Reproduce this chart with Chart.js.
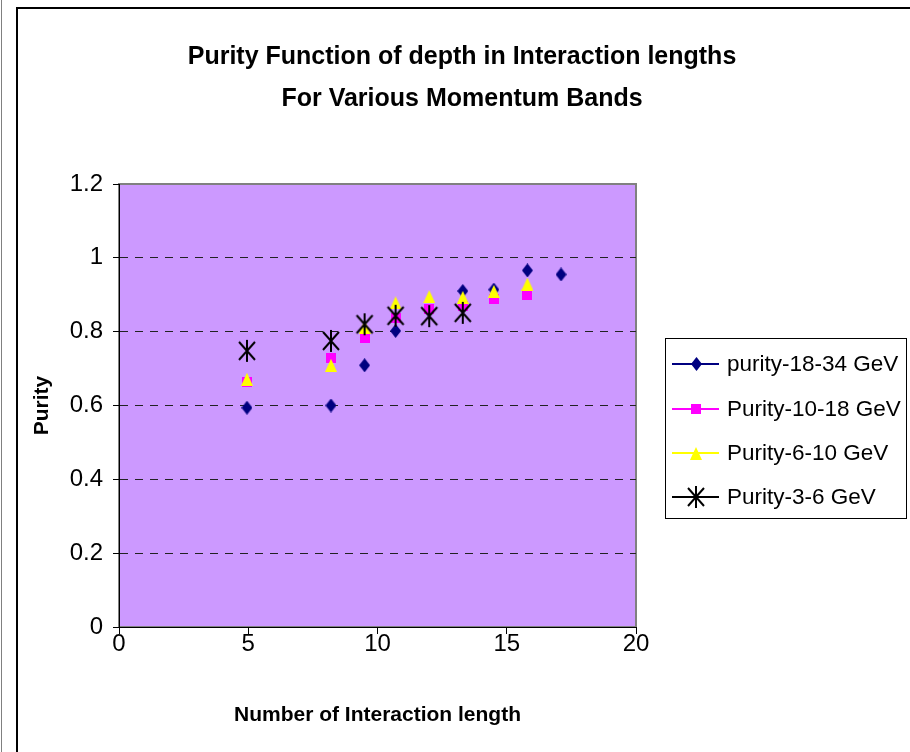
<!DOCTYPE html>
<html>
<head>
<meta charset="utf-8">
<script src="https://cdn.jsdelivr.net/npm/chart.js@4/dist/chart.umd.min.js"></script>
<style>
  html, body { margin: 0; padding: 0; background: #fff; }
  canvas { display: block; }
</style>
</head>
<body>
<canvas id="c" width="910" height="752"></canvas>
<script>
// ---- data ----
const titleLines = ['Purity Function of depth in Interaction lengths', 'For Various Momentum Bands'];
const xTitle = 'Number of Interaction length';
const yTitle = 'Purity';
const xTicks = [0, 5, 10, 15, 20];
const yTicks = [0, 0.2, 0.4, 0.6, 0.8, 1, 1.2];

const seriesNames = ['purity-18-34 GeV', 'Purity-10-18 GeV', 'Purity-6-10 GeV', 'Purity-3-6 GeV'];

const x1834 = [4.95, 8.2, 9.5, 10.7, 13.3, 14.5, 15.8, 17.1];
const y1834 = [0.594, 0.600, 0.709, 0.802, 0.910, 0.914, 0.966, 0.955];

const x1018 = [4.95, 8.2, 9.5, 10.7, 12.0, 13.3, 14.5, 15.8];
const y1018 = [0.664, 0.729, 0.783, 0.836, 0.862, 0.869, 0.888, 0.899];

const x610 = [4.95, 8.2, 9.5, 10.7, 12.0, 13.3, 14.5, 15.8];
const y610 = [0.671, 0.709, 0.812, 0.878, 0.895, 0.893, 0.909, 0.929];

const x36 = [4.95, 8.2, 9.5, 10.7, 12.0, 13.3];
const y36 = [0.748, 0.775, 0.820, 0.843, 0.842, 0.851];

// ---- marker images ----
function mk(w, h, draw) {
  const c = document.createElement('canvas');
  c.width = w; c.height = h;
  draw(c.getContext('2d'), w, h);
  return c;
}
const diamond = mk(11, 14, (g, w, h) => {
  g.fillStyle = '#000080';
  g.beginPath(); g.moveTo(w / 2, 0); g.lineTo(w, h / 2); g.lineTo(w / 2, h); g.lineTo(0, h / 2); g.closePath(); g.fill();
});
const square = mk(10, 10, (g, w, h) => { g.fillStyle = '#FF00FF'; g.fillRect(0, 0, w, h); });
const triangle = mk(12, 13, (g, w, h) => {
  g.fillStyle = '#FFFF00';
  g.beginPath(); g.moveTo(w / 2, 0); g.lineTo(w, h); g.lineTo(0, h); g.closePath(); g.fill();
});
const star = mk(20, 24, (g, w, h) => {
  g.strokeStyle = '#000'; g.lineWidth = 2;
  g.beginPath();
  g.moveTo(10, 1); g.lineTo(10, 23);
  g.moveTo(2, 3); g.lineTo(18, 21);
  g.moveTo(18, 3); g.lineTo(2, 21);
  g.stroke();
});

const toPts = (xs, ys) => xs.map((x, i) => ({ x: x, y: ys[i] }));

const FONT = "'Liberation Sans', Arial, sans-serif";

const datasets = [
  { label: seriesNames[0], data: toPts(x1834, y1834), pointStyle: diamond, borderColor: '#000080', backgroundColor: '#000080', order: 3 },
  { label: seriesNames[1], data: toPts(x1018, y1018), pointStyle: square, borderColor: '#FF00FF', backgroundColor: '#FF00FF', order: 2 },
  { label: seriesNames[2], data: toPts(x610, y610), pointStyle: triangle, borderColor: '#FFFF00', backgroundColor: '#FFFF00', order: 1 },
  { label: seriesNames[3], data: toPts(x36, y36), pointStyle: star, borderColor: '#000000', backgroundColor: '#000000', order: 0 }
].map(d => Object.assign(d, { showLine: false, pointRadius: 6, pointHoverRadius: 6 }));

const framePlugin = {
  id: 'frame',
  beforeDraw(chart) {
    const g = chart.ctx, a = chart.chartArea;
    g.save();
    g.fillStyle = '#fff';
    g.fillRect(0, 0, chart.width, chart.height);
    // page lines
    g.strokeStyle = '#808080'; g.lineWidth = 1;
    g.beginPath(); g.moveTo(1.5, 0); g.lineTo(1.5, chart.height); g.stroke();
    g.strokeStyle = '#000'; g.lineWidth = 2;
    g.beginPath(); g.moveTo(17, chart.height); g.lineTo(17, 8); g.lineTo(chart.width, 8); g.stroke();
    // plot area
    g.fillStyle = '#CC99FF';
    g.fillRect(a.left, a.top, a.right - a.left, a.bottom - a.top);
    g.strokeStyle = '#808080'; g.lineWidth = 2;
    g.strokeRect(a.left, a.top, a.right - a.left, a.bottom - a.top);
    g.restore();
  },
  afterDraw(chart) {
    const g = chart.ctx;
    const bx = 665.5, by = 338.5, bw = 241, bh = 180;
    g.save();
    g.fillStyle = '#fff';
    g.fillRect(bx, by, bw, bh);
    g.strokeStyle = '#000'; g.lineWidth = 1;
    g.strokeRect(bx, by, bw, bh);
    const rows = [364, 409, 453, 497];
    g.font = '22.5px ' + FONT;
    g.textBaseline = 'middle';
    g.textAlign = 'left';
    chart.data.datasets.forEach((d, i) => {
      const y = rows[i];
      g.strokeStyle = d.borderColor; g.lineWidth = 2;
      g.beginPath(); g.moveTo(672, y); g.lineTo(719, y); g.stroke();
      const img = d.pointStyle;
      g.drawImage(img, Math.round(696 - img.width / 2), Math.round(y - img.height / 2));
      g.fillStyle = '#000';
      g.fillText(d.label, 727, y + 1);
    });
    g.restore();
  }
};

new Chart(document.getElementById('c'), {
  type: 'scatter',
  data: { datasets: datasets },
  plugins: [framePlugin],
  options: {
    responsive: false,
    animation: false,
    devicePixelRatio: 1,
    layout: { padding: { left: 17, right: 3, top: 0, bottom: 0 } },
    plugins: {
      legend: { display: false },
      tooltip: { enabled: false },
      title: {
        display: true,
        text: titleLines,
        color: '#000',
        font: { family: FONT, size: 25, weight: 'bold', lineHeight: 1.68 },
        padding: { top: 36, bottom: 64 }
      }
    },
    scales: {
      x: {
        type: 'linear',
        min: 0, max: 20,
        afterBuildTicks: s => { s.ticks = xTicks.map(v => ({ value: v })); },
        afterFit: s => { s.height = 125; },
        ticks: { color: '#000', font: { family: FONT, size: 24 }, padding: -4, maxRotation: 0, callback: v => String(v) },
        grid: { drawOnChartArea: false, drawTicks: true, tickLength: 7, tickColor: '#000', color: '#000' },
        border: { display: true, color: '#000', width: 1 },
        title: { display: true, text: xTitle, color: '#000', font: { family: FONT, size: 21, weight: 'bold' }, padding: { top: 0, bottom: 24 } }
      },
      y: {
        type: 'linear',
        min: 0, max: 1.2,
        afterBuildTicks: s => { s.ticks = yTicks.map(v => ({ value: v })); },
        afterFit: s => { s.width = 102; },
        ticks: { color: '#000', font: { family: FONT, size: 24 }, padding: 10, callback: v => String(v) },
        grid: {
          drawOnChartArea: true, drawTicks: true, tickLength: 6, tickColor: '#000',
          color: c => (c.tick && (c.tick.value === 0 || c.tick.value === 1.2)) ? 'rgba(0,0,0,0)' : '#222222',
          lineWidth: 1
        },
        border: { display: true, color: '#000', width: 1, dash: [8, 7] },
        title: { display: true, text: yTitle, color: '#000', font: { family: FONT, size: 21, weight: 'bold' }, padding: { top: 13, bottom: 0 } }
      },
      yR: {
        type: 'linear',
        position: 'right',
        display: true,
        afterFit: s => { s.width = 271; },
        ticks: { display: false },
        grid: { display: false, drawTicks: false },
        border: { display: false },
        title: { display: false }
      }
    }
  }
});
</script>
</body>
</html>
